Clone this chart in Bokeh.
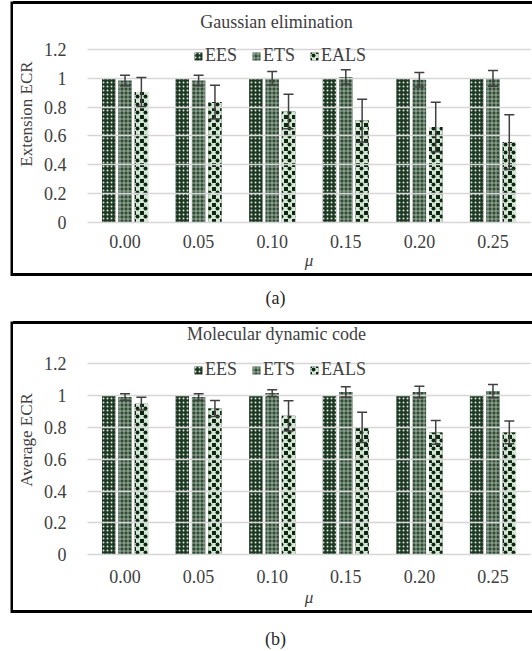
import numpy as np
from bokeh.plotting import figure
from bokeh.models import (ColumnDataSource, Range1d, FixedTicker, Whisker, TeeHead,
                          Legend, LegendItem, Label, Spacer)
from bokeh.layouts import column, row
from bokeh.embed import file_html
from bokeh.resources import INLINE

# ---------------- data ----------------
mu_labels = ["0.00", "0.05", "0.10", "0.15", "0.20", "0.25"]
series = ["EES", "ETS", "EALS"]
y_ticks = [0, 0.2, 0.4, 0.6, 0.8, 1.0, 1.2]
y_tick_labels = ["0", "0.2", "0.4", "0.6", "0.8", "1", "1.2"]
captions = ["(a)", "(b)"]
titles = ["Gaussian elimination", "Molecular dynamic code"]
y_labels = ["Extension ECR", "Average ECR"]

ge_ees = [1.0, 1.0, 1.0, 1.0, 1.0, 1.0]
ge_ets = [0.985, 0.985, 1.00, 1.01, 0.99, 1.00]
ge_ets_err = [0.037, 0.037, 0.047, 0.05, 0.05, 0.055]
ge_eals = [0.905, 0.835, 0.77, 0.707, 0.662, 0.558]
ge_eals_err = [0.10, 0.117, 0.12, 0.148, 0.172, 0.19]

md_ees = [1.0, 1.0, 1.0, 1.0, 1.0, 1.0]
md_ets = [0.99, 0.99, 1.015, 1.022, 1.022, 1.027]
md_ets_err = [0.02, 0.02, 0.02, 0.033, 0.036, 0.042]
md_eals = [0.948, 0.918, 0.872, 0.80, 0.768, 0.768]
md_eals_err = [0.04, 0.05, 0.095, 0.095, 0.075, 0.072]

FONT = "Liberation Serif"
TXT = "#404040"
DARK = "#0f2714"
MINT = "#d4e7d2"


def make_panel(title, ylab, ees, ets, ets_err, eals, eals_err,
               height, bot_b, y0, y1, s1, s2, title_y, leg_vy):
    idx = np.arange(len(mu_labels))
    off = 0.222
    bw = 0.183
    src = ColumnDataSource(dict(
        x_ees=idx - off, x_ets=idx * 1.0, x_eals=idx + off,
        ees=ees, ets=ets, eals=eals,
        ets_lo=np.array(ets) - np.array(ets_err), ets_hi=np.array(ets) + np.array(ets_err),
        eals_lo=np.array(eals) - np.array(eals_err), eals_hi=np.array(eals) + np.array(eals_err),
    ))
    p = figure(width=519, height=height, title=None,
               x_range=Range1d(-0.51, 5.51), y_range=Range1d(y0, y1),
               output_backend="svg", toolbar_location=None,
               min_border_left=72, min_border_right=2,
               min_border_top=0, min_border_bottom=bot_b)
    p.outline_line_color = None
    p.background_fill_color = "white"
    p.border_fill_color = "white"

    r1 = p.vbar(x="x_ees", top="ees", width=bw, source=src, line_color=None,
                fill_color="#1d3823", hatch_pattern="dot", hatch_color="#dfe8df",
                hatch_scale=4)
    r2 = p.vbar(x="x_ets", top="ets", width=bw, source=src, line_color=None,
                fill_color="#2f4d35", hatch_pattern="cross", hatch_color="#dfe8df",
                hatch_scale=4, hatch_weight=0.6)
    # checkerboard: dark corner squares (light cross on dark) + dark centre dots
    r3a = p.vbar(x="x_eals", top="eals", width=bw, source=src, line_color=None,
                 fill_color=DARK, hatch_pattern="cross", hatch_color=MINT,
                 hatch_scale=8, hatch_weight=4)
    r3b = p.vbar(x="x_eals", top="eals", width=bw, source=src, line_color=None,
                 fill_alpha=0, hatch_pattern="dot", hatch_color=DARK,
                 hatch_scale=8)

    for lo, hi, xb in (("ets_lo", "ets_hi", "x_ets"), ("eals_lo", "eals_hi", "x_eals")):
        w = Whisker(base=xb, lower=lo, upper=hi, source=src, line_color="#404040", line_width=1.5,
                    upper_head=TeeHead(size=10, line_color="#404040", line_width=1.5),
                    lower_head=TeeHead(size=10, line_color="#404040", line_width=1.5))
        w.level = "overlay"
        p.add_layout(w)

    p.xgrid.visible = False
    p.ygrid.ticker = FixedTicker(ticks=y_ticks)
    p.ygrid.grid_line_color = "#d6d6d6"
    p.ygrid.grid_line_width = 1.5
    p.ygrid.level = "guide"

    p.xaxis.ticker = FixedTicker(ticks=list(range(len(mu_labels))))
    p.xaxis.major_label_overrides = {i: lab for i, lab in enumerate(mu_labels)}
    p.yaxis.ticker = FixedTicker(ticks=y_ticks)
    p.yaxis.major_label_overrides = {t: lab for t, lab in zip(y_ticks, y_tick_labels)}
    for ax in (p.xaxis[0], p.yaxis[0]):
        ax.axis_line_color = None
        ax.major_tick_line_color = None
        ax.minor_tick_line_color = None
        ax.major_label_text_font = FONT
        ax.major_label_text_font_size = "18px"
        ax.major_label_text_color = TXT
        ax.axis_label_text_font = FONT
        ax.axis_label_text_color = TXT
    p.xaxis.axis_label = "\u03bc"
    p.xaxis.axis_label_text_font_size = "17px"
    p.xaxis.axis_label_text_font_style = "italic"
    p.xaxis.major_label_standoff = s1
    p.xaxis.axis_label_standoff = s2
    p.yaxis.axis_label = ylab
    p.yaxis.axis_label_text_font_size = "17px"
    p.yaxis.axis_label_text_font_style = "normal"
    p.yaxis.major_label_standoff = 15
    p.yaxis.axis_label_standoff = 5

    p.add_layout(Label(x=189, y=title_y, x_units="screen", y_units="screen", text=title,
                       text_align="center", text_baseline="middle", text_font=FONT,
                       text_font_size="18px", text_color=TXT))

    legend = Legend(items=[LegendItem(label=series[0], renderers=[r1]),
                           LegendItem(label=series[1], renderers=[r2]),
                           LegendItem(label=series[2], renderers=[r3a, r3b])],
                    location=(106, leg_vy), orientation="horizontal",
                    background_fill_alpha=0, border_line_alpha=0,
                    label_text_font=FONT, label_text_font_size="18px", label_text_color=TXT,
                    glyph_width=10, glyph_height=10, label_standoff=2, spacing=14,
                    padding=0, margin=0, label_height=18)
    p.add_layout(legend)
    return p


def vbar_black(h):
    b = figure(width=3, height=h, output_backend="svg", toolbar_location=None, min_border=0,
               x_axis_type=None, y_axis_type=None, background_fill_color="black",
               border_fill_color="black", title=None)
    b.outline_line_color = None
    b.grid.visible = False
    return b


def hbar_black():
    return Spacer(width=519, height=3, styles={"background-color": "black"})


def boxed(p, inner_h):
    return row(Spacer(width=10, height=inner_h + 6), vbar_black(inner_h + 6),
               column(hbar_black(), p, hbar_black(), spacing=0), spacing=0)


def make_caption(text, h, cy):
    c = figure(width=532, height=h, x_range=Range1d(0, 532), y_range=Range1d(0, h),
               output_backend="svg", toolbar_location=None, min_border=0,
               x_axis_type=None, y_axis_type=None, title=None)
    c.outline_line_color = None
    c.grid.visible = False
    c.add_layout(Label(x=275, y=h - cy, text=text, text_align="center", text_baseline="middle",
                       text_font=FONT, text_font_size="18px", text_color="#262626"))
    return c


pa = make_panel(titles[0], y_labels[0], ge_ees, ge_ets, ge_ets_err, ge_eals, ge_eals_err,
                height=269, bot_b=50, y0=-0.007, y1=1.512, s1=5, s2=0,
                title_y=202, leg_vy=157)
pb = make_panel(titles[1], y_labels[1], md_ees, md_ets, md_ets_err, md_eals, md_eals_err,
                height=286, bot_b=55, y0=-0.0044, y1=1.445, s1=8, s2=2,
                title_y=222, leg_vy=175)

layout = column(Spacer(width=532, height=1), boxed(pa, 269), make_caption(captions[0], 45, 21),
                boxed(pb, 286), make_caption(captions[1], 38, 25), spacing=0)
open("out.html", "w").write(file_html(layout, INLINE))
